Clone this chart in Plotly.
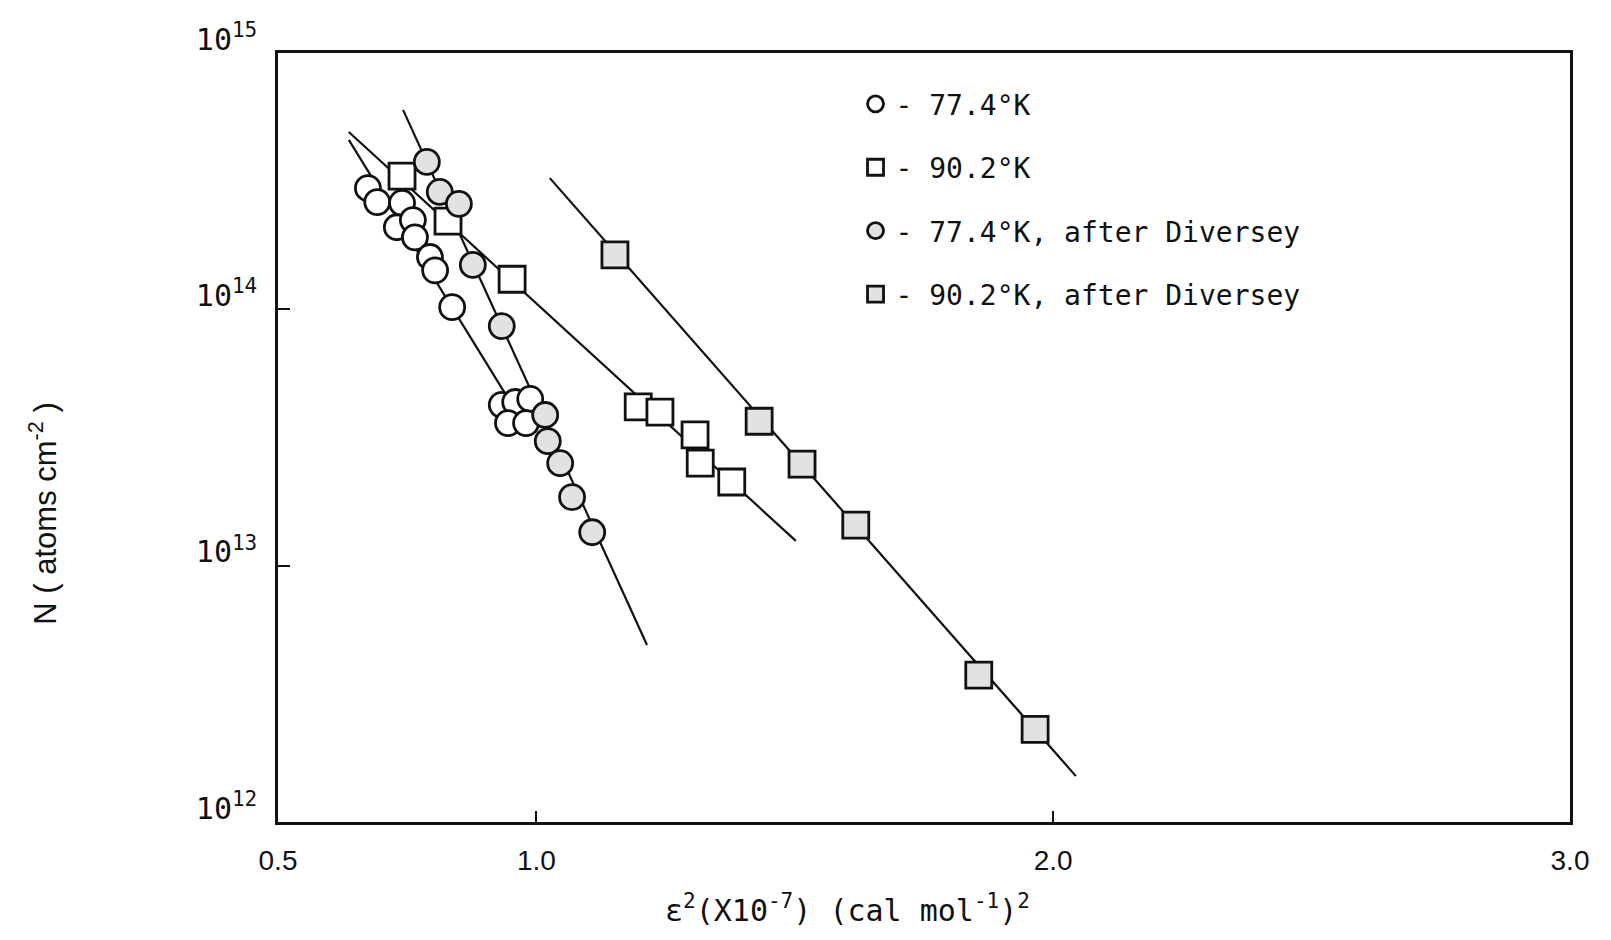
import plotly.graph_objects as go

# ---- data ----
open_circle_x = [0.674, 0.692, 0.740, 0.730, 0.761, 0.765, 0.794, 0.804, 0.837, 0.933, 0.959, 0.988, 0.945, 0.980]
open_circle_N = [2.97e14, 2.62e14, 2.60e14, 2.09e14, 2.23e14, 1.91e14, 1.60e14, 1.42e14, 1.02e14,
                 4.24e13, 4.35e13, 4.47e13, 3.60e13, 3.60e13]

open_square_x = [0.740, 0.829, 0.953, 1.197, 1.239, 1.307, 1.317, 1.378]
open_square_N = [3.31e14, 2.21e14, 1.31e14, 4.16e13, 3.97e13, 3.24e13, 2.51e13, 2.12e13]

div_circle_x = [0.788, 0.813, 0.850, 0.877, 0.933, 1.017, 1.022, 1.046, 1.069, 1.108]
div_circle_N = [3.76e14, 2.87e14, 2.58e14, 1.49e14, 8.6e13, 3.87e13, 3.06e13, 2.51e13, 1.85e13, 1.35e13]

div_square_x = [1.152, 1.431, 1.514, 1.618, 1.856, 1.965]
div_square_N = [1.63e14, 3.66e13, 2.49e13, 1.44e13, 3.74e12, 2.30e12]

# fitted straight lines (end points)
fit_open_circle_x = [0.637, 0.939]
fit_open_circle_N = [4.58e14, 4.71e13]
fit_open_square_x = [0.637, 1.502]
fit_open_square_N = [4.92e14, 1.25e13]
fit_div_circle_x = [0.742, 1.214]
fit_div_circle_N = [6.0e14, 4.9e12]
fit_div_square_x = [1.026, 2.044]
fit_div_square_N = [3.25e14, 1.51e12]

legend_labels = ["- 77.4°K", "- 90.2°K", "- 77.4°K, after Diversey", "- 90.2°K, after Diversey"]

x_tickvals = [0.5, 1.0, 2.0, 3.0]
x_ticktext = ["0.5", "1.0", "2.0", "3.0"]
y_tickvals = [1e12, 1e13, 1e14, 1e15]
y_ticktext = ["10<sup>12</sup>", "10<sup>13</sup>", "10<sup>14</sup>", "10<sup>15</sup>"]

# ---- styles ----
INK = "#111111"
SHADE = "#e2e2e2"
MONO = "DejaVu Sans Mono, Liberation Mono, monospace"
NARROW = "Liberation Sans, Arial, sans-serif"

fig = go.Figure()

for fx, fy in [(fit_open_circle_x, fit_open_circle_N), (fit_open_square_x, fit_open_square_N),
               (fit_div_circle_x, fit_div_circle_N), (fit_div_square_x, fit_div_square_N)]:
    fig.add_trace(go.Scatter(x=fx, y=fy, mode="lines", line=dict(color=INK, width=2.2),
                             showlegend=False, hoverinfo="skip"))

series = [
    (open_circle_x, open_circle_N, "circle", "white"),
    (open_square_x, open_square_N, "square", "white"),
    (div_circle_x, div_circle_N, "circle", SHADE),
    (div_square_x, div_square_N, "square", SHADE),
]
for i, (sx, sy, sym, fill) in enumerate(series):
    fig.add_trace(go.Scatter(
        x=sx, y=sy, mode="markers", name=legend_labels[i], legendgroup=f"g{i}",
        marker=dict(symbol=sym, size=25 if sym == "circle" else 26, color=fill,
                    line=dict(color=INK, width=2.8)),
    ))

fig.update_layout(
    width=1611, height=940,
    margin=dict(l=278, r=41, t=53, b=118),
    paper_bgcolor="white", plot_bgcolor="white",
    showlegend=True,
    legend=dict(x=0.447, xanchor="left", y=0.966, yanchor="top",
                font=dict(family=MONO, size=28, color=INK),
                tracegroupgap=24, bgcolor="rgba(0,0,0,0)", itemsizing="trace"),
    xaxis=dict(range=[0.5, 3.0], tickvals=x_tickvals, ticktext=x_ticktext,
               showline=True, mirror=True, linecolor=INK, linewidth=2.5,
               ticks="inside", ticklen=11, tickwidth=2, tickcolor=INK,
               showgrid=False, zeroline=False,
               tickfont=dict(family=NARROW, size=28, color=INK), ticklabelstandoff=12),
    yaxis=dict(type="log", range=[12, 15], tickvals=y_tickvals, ticktext=y_ticktext,
               showline=True, mirror=True, linecolor=INK, linewidth=2.5,
               ticks="inside", ticklen=12, tickwidth=2, tickcolor=INK,
               showgrid=False, zeroline=False,
               tickfont=dict(family=MONO, size=30, color=INK), ticklabelshift=-14,
               ticklabelstandoff=12),
    annotations=[
        dict(text="N ( atoms cm<sup>-2</sup> )", xref="paper", yref="paper",
             x=-0.182, y=0.402, xanchor="center", yanchor="middle", textangle=-90,
             showarrow=False, font=dict(family=NARROW, size=31, color=INK)),
        dict(text="ε<sup>2</sup>(X10<sup>-7</sup>) (cal mol<sup>-1</sup>)<sup>2</sup>",
             xref="paper", yref="paper", x=0.441, y=-0.113, xanchor="center", yanchor="middle",
             showarrow=False, font=dict(family=MONO, size=30, color=INK)),
    ],
)

fig.write_html("out.html")
